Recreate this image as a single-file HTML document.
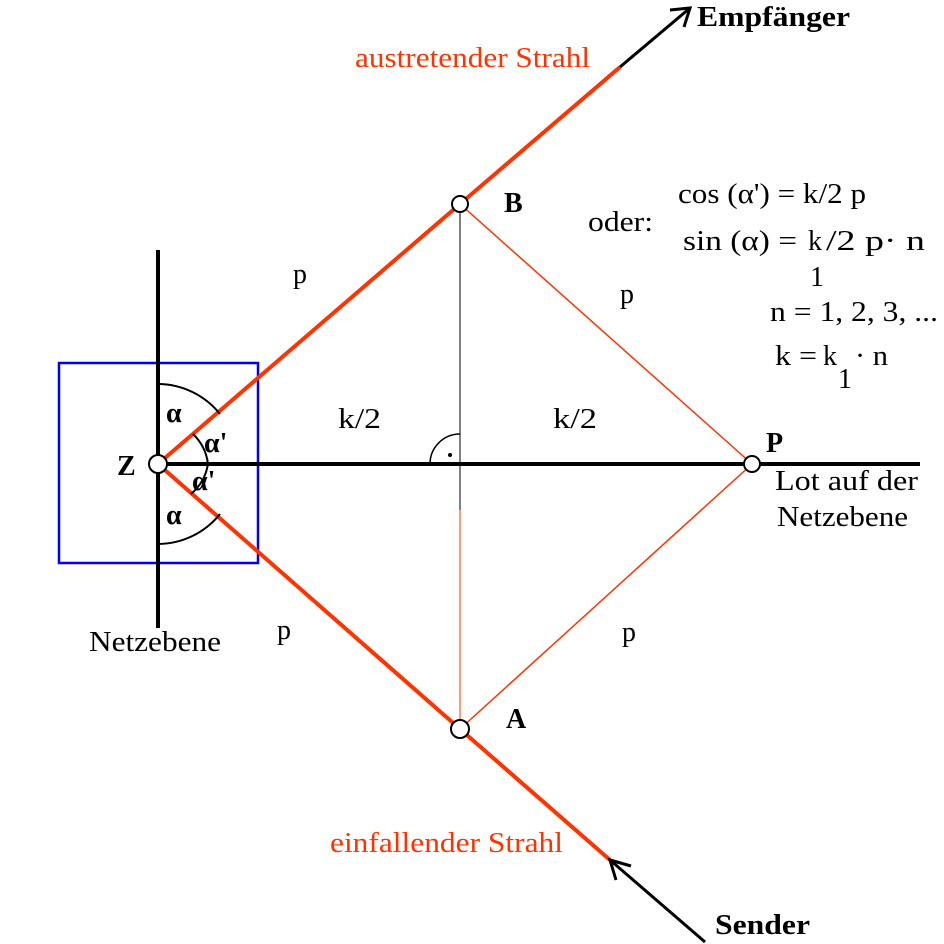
<!DOCTYPE html>
<html><head><style>body{margin:0;background:#fff}svg{display:block}text{font-family:"Liberation Serif",serif}</style></head><body>
<svg width="944" height="944" viewBox="0 0 944 944" xmlns="http://www.w3.org/2000/svg">
<rect width="944" height="944" fill="#fff"/>
<rect x="59" y="363" width="199" height="200" fill="none" stroke="#0000ee" stroke-width="2.5"/>
<line x1="158" y1="250" x2="158" y2="628" stroke="#000" stroke-width="4"/>
<line x1="158" y1="464" x2="920" y2="464" stroke="#000" stroke-width="4"/>
<line x1="460" y1="204" x2="460" y2="729" stroke="#000" stroke-width="1"/>
<line x1="460" y1="510" x2="460" y2="729" stroke="#ff3300" stroke-width="1"/>
<line x1="460" y1="204" x2="752" y2="464" stroke="#ff3300" stroke-width="1.5"/>
<line x1="460" y1="729" x2="752" y2="464" stroke="#ff3300" stroke-width="1.5"/>
<polyline points="158,464 460,204 620,67" fill="none" stroke="#ff3300" stroke-width="4"/>
<polyline points="158,464 460,729 610,860" fill="none" stroke="#ff3300" stroke-width="4"/>
<line x1="620" y1="67" x2="690" y2="8" stroke="#000" stroke-width="3"/>
<polyline points="670,10 690,8 684,27" fill="none" stroke="#000" stroke-width="3"/>
<line x1="610" y1="860" x2="705" y2="942" stroke="#000" stroke-width="3"/>
<polyline points="616,880 610,860 631,866" fill="none" stroke="#000" stroke-width="3"/>
<path d="M158,384 A80,80 0 0 1 220,414" fill="none" stroke="#000" stroke-width="2"/>
<path d="M158,544 A80,80 0 0 0 220,514" fill="none" stroke="#000" stroke-width="2"/>
<path d="M193,434 A50,50 0 0 1 208,464" fill="none" stroke="#000" stroke-width="2"/>
<path d="M208,464 A50,50 0 0 1 191,494" fill="none" stroke="#000" stroke-width="2"/>
<path d="M430,464 A30,30 0 0 1 460,434" fill="none" stroke="#000" stroke-width="1.5"/>
<circle cx="450" cy="455" r="2" fill="#000"/>
<circle cx="158" cy="464" r="9" fill="#fff" stroke="#000" stroke-width="2"/>
<circle cx="460" cy="204" r="8" fill="#fff" stroke="#000" stroke-width="2"/>
<circle cx="460" cy="729" r="9" fill="#fff" stroke="#000" stroke-width="2"/>
<circle cx="752" cy="464" r="8" fill="#fff" stroke="#000" stroke-width="2"/>
<g font-size="28">
<text x="355" y="67" fill="#ff3300" textLength="235" lengthAdjust="spacingAndGlyphs">austretender Strahl</text>
<text x="330" y="852" fill="#ff3300" textLength="233" lengthAdjust="spacingAndGlyphs">einfallender Strahl</text>
<text x="697" y="26" font-weight="bold" textLength="153" lengthAdjust="spacingAndGlyphs">Empfänger</text>
<text x="715" y="934" font-weight="bold" textLength="95" lengthAdjust="spacingAndGlyphs">Sender</text>
<text x="504" y="212" font-weight="bold">B</text>
<text x="506" y="728" font-weight="bold">A</text>
<text x="766" y="452" font-weight="bold">P</text>
<text x="117" y="475" font-weight="bold">Z</text>
<text x="293" y="283">p</text>
<text x="620" y="303">p</text>
<text x="277" y="639">p</text>
<text x="622" y="641">p</text>
<text x="338" y="428" textLength="43" lengthAdjust="spacingAndGlyphs">k/2</text>
<text x="553" y="428" textLength="44" lengthAdjust="spacingAndGlyphs">k/2</text>
<text x="775" y="490" textLength="143" lengthAdjust="spacingAndGlyphs">Lot auf der</text>
<text x="777" y="526" textLength="131" lengthAdjust="spacingAndGlyphs">Netzebene</text>
<text x="89" y="651" textLength="132" lengthAdjust="spacingAndGlyphs">Netzebene</text>
<text x="588" y="231" textLength="65" lengthAdjust="spacingAndGlyphs">oder:</text>
<text x="678" y="203" textLength="188" lengthAdjust="spacingAndGlyphs">cos (α') = k/2 p</text>
<text x="683" y="250" textLength="114" lengthAdjust="spacingAndGlyphs">sin (α) =</text>
<text x="808" y="250">k</text>
<text x="810" y="286">1</text>
<text x="826" y="250" textLength="99" lengthAdjust="spacingAndGlyphs">/2 p· n</text>
<text x="770" y="321" textLength="168" lengthAdjust="spacingAndGlyphs">n = 1, 2, 3, ...</text>
<text x="775" y="365" textLength="42" lengthAdjust="spacingAndGlyphs">k =</text>
<text x="823" y="365">k</text>
<text x="838" y="388">1</text>
<text x="855" y="365" textLength="33" lengthAdjust="spacingAndGlyphs">· n</text>
<text x="166" y="422" font-weight="bold">α</text>
<text x="204" y="452" font-weight="bold">α'</text>
<text x="192" y="490" font-weight="bold">α'</text>
<text x="166" y="524" font-weight="bold">α</text>
</g>
</svg>
</body></html>
